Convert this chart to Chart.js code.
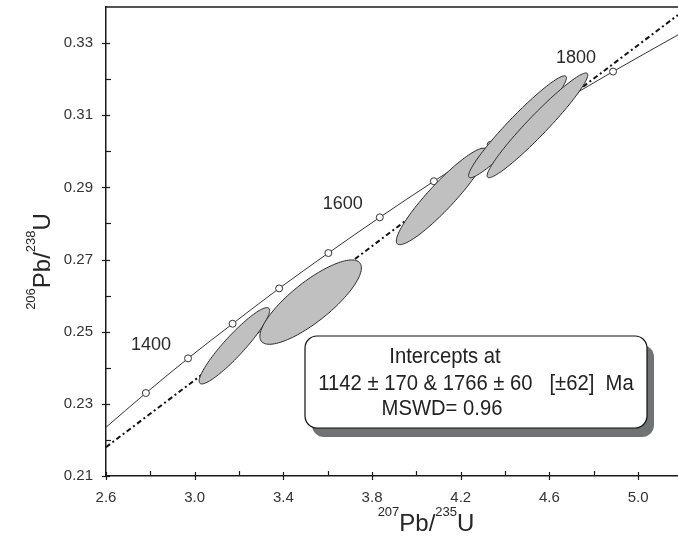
<!DOCTYPE html>
<html lang="en">
<head>
<meta charset="UTF-8">
<script src="https://cdn.jsdelivr.net/npm/chart.js"></script>
<style>
  html, body { margin: 0; padding: 0; background: #fff; overflow: hidden; }
  #wrap { width: 678px; height: 536px; }
</style>
</head>
<body>
<div id="wrap"><canvas id="concordia" width="678" height="536"></canvas></div>
<script>
  // Concordia curve: ages (Ma) and their isotope ratios
  const ages   = [1300, 1350, 1400, 1450, 1500, 1550, 1600, 1650, 1700, 1750, 1800, 1850];
  const concX  = [2.598, 2.780, 2.970, 3.171, 3.381, 3.603, 3.835, 4.079, 4.335, 4.605, 4.887, 5.184];
  const concY  = [0.2234, 0.2330, 0.2426, 0.2522, 0.2620, 0.2718, 0.2817, 0.2917, 0.3018, 0.3119, 0.3221, 0.3324];
  const markedAges = [1350, 1400, 1450, 1500, 1550, 1600, 1650, 1700, 1750, 1800];
  const labelledAges = [1400, 1600, 1800];

  // Discordia (regression line) through the analyses
  const discX = [2.60, 5.18];
  const discY = [0.2180, 0.3378];

  // Error ellipses: centre, half-extent in x and y, error correlation
  const ellCx  = [3.179, 3.523, 4.114, 4.456, 4.546];
  const ellCy  = [0.2461, 0.2582, 0.2875, 0.3068, 0.3072];
  const ellEx  = [0.159, 0.229, 0.2045, 0.2207, 0.227];
  const ellEy  = [0.01058, 0.01169, 0.01338, 0.01412, 0.01451];
  const ellRho = [0.924, 0.811, 0.923, 0.960, 0.962];

  // Axis ticks
  const xTicks  = [2.6, 2.8, 3.0, 3.2, 3.4, 3.6, 3.8, 4.0, 4.2, 4.4, 4.6, 4.8, 5.0];
  const xMajor  = [2.6, 3.0, 3.4, 3.8, 4.2, 4.6, 5.0];
  const yTicks  = [0.21, 0.22, 0.23, 0.24, 0.25, 0.26, 0.27, 0.28, 0.29, 0.30, 0.31, 0.32, 0.33];
  const yMajor  = [0.21, 0.23, 0.25, 0.27, 0.29, 0.31, 0.33];

  const resultLines = ['Intercepts at', '1142 ± 170 & 1766 ± 60   [±62]  Ma', 'MSWD= 0.96'];

  const FONT = "'Liberation Sans', Arial, sans-serif";
  const isMajor = (list, v) => list.some(m => Math.abs(m - v) < 1e-6);

  // where the age labels sit (data coords)
  const ageLabelPos = { 1400: [2.803, 0.2464], 1600: [3.668, 0.2853], 1800: [4.720, 0.3258] };

  function squeezeText(ctx, text, x, y, sx) {
    ctx.save();
    ctx.translate(x, y);
    ctx.scale(sx, 1);
    ctx.fillText(text, 0, 0);
    ctx.restore();
  }

  // draws "207Pb/235U" style text with superscript masses, centred at 0
  function drawRatio(ctx, parts) {
    let total = 0;
    parts.forEach(p => { ctx.font = p[1] + 'px ' + FONT; total += ctx.measureText(p[0]).width; });
    let x = -total / 2;
    parts.forEach(p => {
      ctx.font = p[1] + 'px ' + FONT;
      ctx.fillText(p[0], x, p[2]);
      x += ctx.measureText(p[0]).width;
    });
  }

  const concordiaPlugin = {
    id: 'concordiaExtras',
    afterDatasetsDraw(chart) {
      const { ctx, chartArea, scales: { x, y } } = chart;
      ctx.save();
      ctx.beginPath();
      ctx.rect(chartArea.left, chartArea.top, chartArea.right - chartArea.left, chartArea.bottom - chartArea.top);
      ctx.clip();
      for (let i = 0; i < ellCx.length; i++) {
        const s = Math.sqrt(1 - ellRho[i] * ellRho[i]);
        ctx.beginPath();
        for (let k = 0; k <= 120; k++) {
          const t = 2 * Math.PI * k / 120;
          const vx = ellCx[i] + ellEx[i] * Math.cos(t);
          const vy = ellCy[i] + ellEy[i] * (ellRho[i] * Math.cos(t) + s * Math.sin(t));
          const px = x.getPixelForValue(vx), py = y.getPixelForValue(vy);
          if (k === 0) ctx.moveTo(px, py); else ctx.lineTo(px, py);
        }
        ctx.closePath();
        ctx.fillStyle = '#c0c0c0';
        ctx.fill();
        ctx.strokeStyle = '#2a2a2a';
        ctx.lineWidth = 1;
        ctx.stroke();
      }
      ctx.restore();
    },
    afterDraw(chart) {
      const { ctx, chartArea, scales: { x, y } } = chart;
      ctx.save();
      ctx.strokeStyle = '#1a1a1a';
      ctx.lineWidth = 1.5;

      // top frame line
      ctx.beginPath();
      ctx.moveTo(chartArea.left, chartArea.top);
      ctx.lineTo(chartArea.right, chartArea.top);
      ctx.stroke();

      // tick marks: majors cross the axis, minors point inwards
      ctx.lineWidth = 1.2;
      y.ticks.forEach(t => {
        const py = Math.round(y.getPixelForValue(t.value)) + 0.5;
        ctx.beginPath();
        if (isMajor(yMajor, t.value)) { ctx.moveTo(chartArea.left - 4, py); ctx.lineTo(chartArea.left + 4, py); }
        else { ctx.moveTo(chartArea.left, py); ctx.lineTo(chartArea.left + 5, py); }
        ctx.stroke();
      });
      x.ticks.forEach(t => {
        const px = Math.round(x.getPixelForValue(t.value)) + 0.5;
        ctx.beginPath();
        if (isMajor(xMajor, t.value)) { ctx.moveTo(px, chartArea.bottom - 4); ctx.lineTo(px, chartArea.bottom + 4); }
        else { ctx.moveTo(px, chartArea.bottom); ctx.lineTo(px, chartArea.bottom - 5); }
        ctx.stroke();
      });

      // axis titles
      ctx.fillStyle = '#262626';
      ctx.textAlign = 'left';
      ctx.textBaseline = 'alphabetic';
      const xParts = [['207', 13, -15], ['Pb/', 24, 0], ['235', 13, -15], ['U', 24, 0]];
      const yParts = [['206', 13, -15], ['Pb/', 24, 0], ['238', 13, -15], ['U', 24, 0]];
      ctx.save();
      ctx.translate((chartArea.left + chartArea.right) / 2 + 34, chart.height - 5);
      drawRatio(ctx, xParts);
      ctx.restore();
      ctx.save();
      ctx.translate(50, (chartArea.top + chartArea.bottom) / 2 + 20);
      ctx.rotate(-Math.PI / 2);
      drawRatio(ctx, yParts);
      ctx.restore();

      // age labels on the concordia
      ctx.font = '18px ' + FONT;
      ctx.textAlign = 'center';
      ctx.textBaseline = 'middle';
      ctx.fillStyle = '#2a2a2a';
      labelledAges.forEach(a => {
        const p = ageLabelPos[a];
        ctx.fillText(String(a), x.getPixelForValue(p[0]), y.getPixelForValue(p[1]));
      });

      // result box with drop shadow
      const bx = 305, by = 336, bw = 342, bh = 92, r = 12;
      ctx.fillStyle = '#6f7373';
      ctx.beginPath();
      ctx.roundRect(bx + 7, by + 9, bw, bh, r);
      ctx.fill();
      ctx.fillStyle = '#ffffff';
      ctx.strokeStyle = '#111';
      ctx.lineWidth = 1.2;
      ctx.beginPath();
      ctx.roundRect(bx, by, bw, bh, r);
      ctx.fill();
      ctx.stroke();

      ctx.fillStyle = '#222';
      ctx.font = '22px ' + FONT;
      ctx.textAlign = 'center';
      ctx.textBaseline = 'alphabetic';
      const centres = [445, 476, 442];
      const bases = [363, 390, 415];
      resultLines.forEach((line, i) => squeezeText(ctx, line, centres[i], bases[i], 0.92));
      ctx.restore();
    }
  };

  const markerSizes = ages.map(a => markedAges.includes(a) ? 3.5 : 0);

  new Chart(document.getElementById('concordia'), {
    type: 'scatter',
    data: {
      datasets: [
        {
          label: 'Discordia',
          data: discX.map((v, i) => ({ x: v, y: discY[i] })),
          showLine: true,
          borderColor: '#111',
          borderWidth: 2,
          borderDash: [5, 3, 2, 3],
          pointRadius: 0
        },
        {
          label: 'Concordia',
          data: concX.map((v, i) => ({ x: v, y: concY[i] })),
          showLine: true,
          cubicInterpolationMode: 'monotone',
          borderColor: '#333',
          borderWidth: 1,
          pointRadius: markerSizes,
          pointBackgroundColor: '#fff',
          pointBorderColor: '#333',
          pointBorderWidth: 1
        }
      ]
    },
    options: {
      responsive: false,
      animation: false,
      layout: { padding: { top: 7, right: 0, left: 0, bottom: 0 } },
      plugins: { legend: { display: false }, tooltip: { enabled: false } },
      scales: {
        x: {
          type: 'linear',
          min: 2.6,
          max: 5.18,
          afterBuildTicks: s => { s.ticks = xTicks.map(v => ({ value: v })); },
          afterFit: s => { s.height = 60; s.paddingLeft = 0; s.paddingRight = 0; },
          grid: { display: false, drawTicks: false },
          border: { display: true, color: '#1a1a1a', width: 1.5 },
          ticks: {
            autoSkip: false,
            maxRotation: 0,
            padding: 13,
            color: '#333',
            font: { family: FONT, size: 15 },
            callback: v => isMajor(xMajor, v) ? v.toFixed(1) : ''
          }
        },
        y: {
          type: 'linear',
          min: 0.21,
          max: 0.34,
          afterBuildTicks: s => { s.ticks = yTicks.map(v => ({ value: v })); },
          afterFit: s => { s.width = 106; s.paddingTop = 0; s.paddingBottom = 0; },
          grid: { display: false, drawTicks: false },
          border: { display: true, color: '#1a1a1a', width: 1.5 },
          ticks: {
            autoSkip: false,
            padding: 13,
            color: '#333',
            font: { family: FONT, size: 15 },
            callback: v => isMajor(yMajor, v) ? v.toFixed(2) : ''
          }
        }
      }
    },
    plugins: [concordiaPlugin]
  });
</script>
</body>
</html>
